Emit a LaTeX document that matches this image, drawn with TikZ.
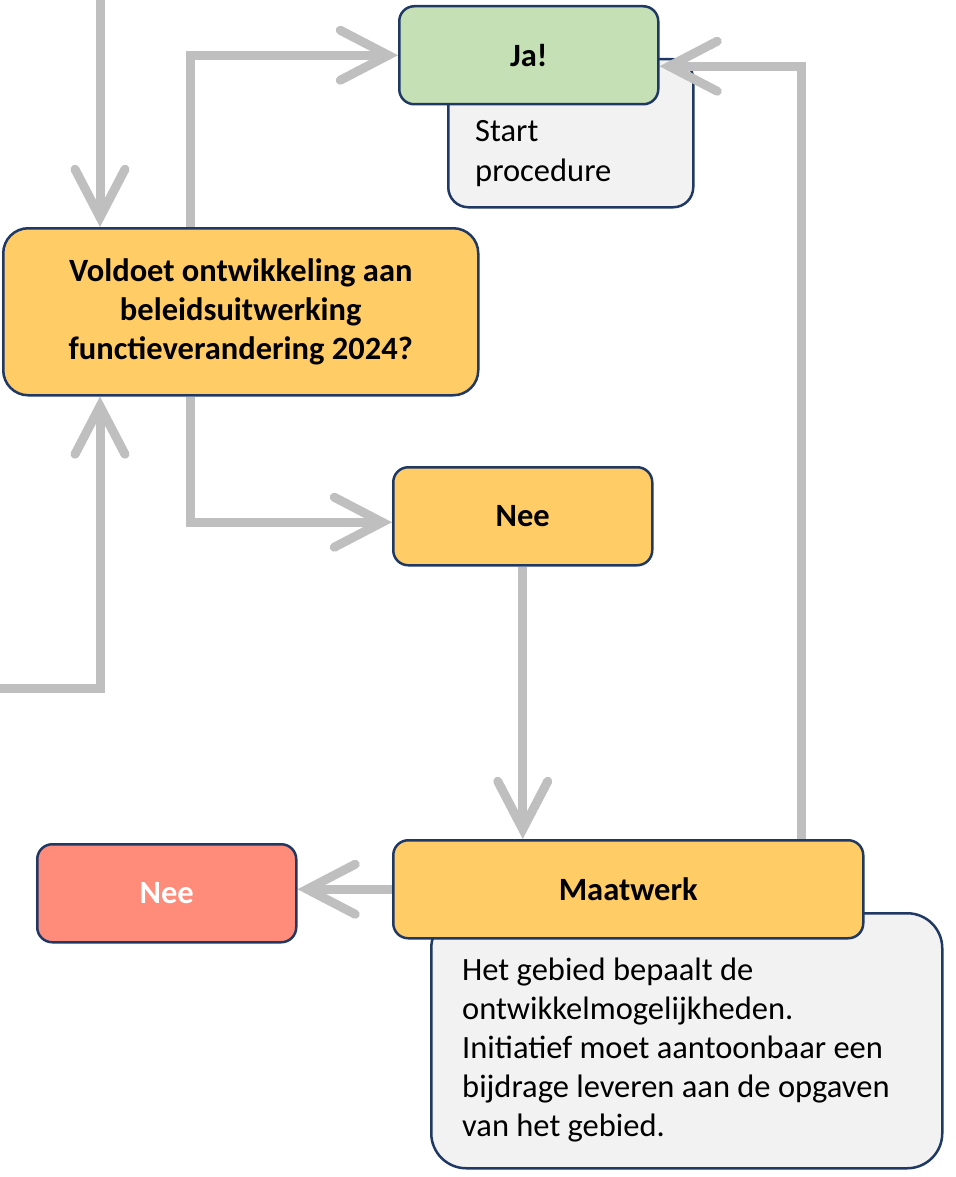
\documentclass[tikz,border=0pt]{standalone}
\usepackage{fontspec}
\setmainfont{Carlito}
\usetikzlibrary{arrows.meta,calc}
\definecolor{boxline}{HTML}{1F3864}
\definecolor{flowgrey}{HTML}{BFBFBF}
\definecolor{yel}{HTML}{FFCC66}
\definecolor{grn}{HTML}{C5E0B4}
\definecolor{rood}{HTML}{FF8B7A}
\definecolor{note}{HTML}{F2F2F2}
\pgfdeclarelayer{notes}
\pgfdeclarelayer{links}
\pgfsetlayers{notes,links,main}
\begin{document}
\begin{tikzpicture}[x=1pt,y=-1pt,
  box/.style={draw=boxline, line width=2.5pt, rounded corners=15pt, inner sep=0pt,
    anchor=north west, align=center, font=\fontsize{32.5}{39}\selectfont\bfseries},
  notebox/.style={draw=boxline, line width=2.5pt, fill=note, inner sep=0pt, anchor=north west},
  notetext/.style={inner sep=0pt, anchor=north west, align=left, font=\fontsize{32.5}{39}\selectfont},
  conn/.style={draw=flowgrey, line width=9pt,
    -{Straight Barb[length=48pt,width=50pt,line cap=round]}}]
\useasboundingbox (0,0) rectangle (955,1177);

% step boxes
\node[box, fill=yel, rounded corners=25pt, minimum width=475pt, minimum height=167pt] (volt) at (2,227)
  {Voldoet ontwikkeling aan\\beleidsuitwerking\\functieverandering 2024?};
\node[box, fill=grn, minimum width=259pt, minimum height=98pt] (ja) at (398,5) {Ja!};
\node[box, fill=yel, minimum width=259pt, minimum height=98pt] (nee) at (392,466) {Nee};
\node[box, fill=yel, minimum width=470pt, minimum height=98pt] (maat) at (392,839) {Maatwerk};
\node[box, fill=rood, text=white, minimum width=259pt, minimum height=98pt] (neerood) at (36,843) {Nee};

% explanatory notes, tucked behind the step boxes
\begin{pgfonlayer}{notes}
  \node[notebox, rounded corners=20pt, minimum width=245pt, minimum height=148pt] (startbox) at (447,58) {};
  \node[notebox, rounded corners=35pt, minimum width=511pt, minimum height=255pt] (desc) at (430,912) {};
\end{pgfonlayer}
\node[notetext, font=\fontsize{32.5}{40}\selectfont] (starttxt) at (475,120) {Start\\procedure};
\node[notetext] (desctxt) at (462,958) {Het gebied bepaalt de\\ontwikkelmogelijkheden.\\Initiatief moet aantoonbaar een\\bijdrage leveren aan de opgaven\\van het gebied.};

% connectors
\coordinate (topin) at (100,0);
\coordinate (leftin) at (0,688);
\coordinate (jain) at ($(ja.east)+(0,11)$);
\begin{pgfonlayer}{links}
  \draw[conn] (topin) -- (topin |- volt.north);
  \draw[conn] (leftin) -| ($(volt.south west)+(98,0)$);
  \draw[conn] ($(volt.north west)+(188,0)$) |- (ja.west);
  \draw[conn] ($(volt.south west)+(188,0)$) |- ($(nee.west)+(0,6)$);
  \draw[conn] (nee.south) -- (nee.south |- maat.north);
  \draw[conn] ($(maat.north west)+(409,0)$) |- (jain);
  \draw[conn] (maat.west) -- (maat.west -| neerood.east);
\end{pgfonlayer}
\end{tikzpicture}
\end{document}
